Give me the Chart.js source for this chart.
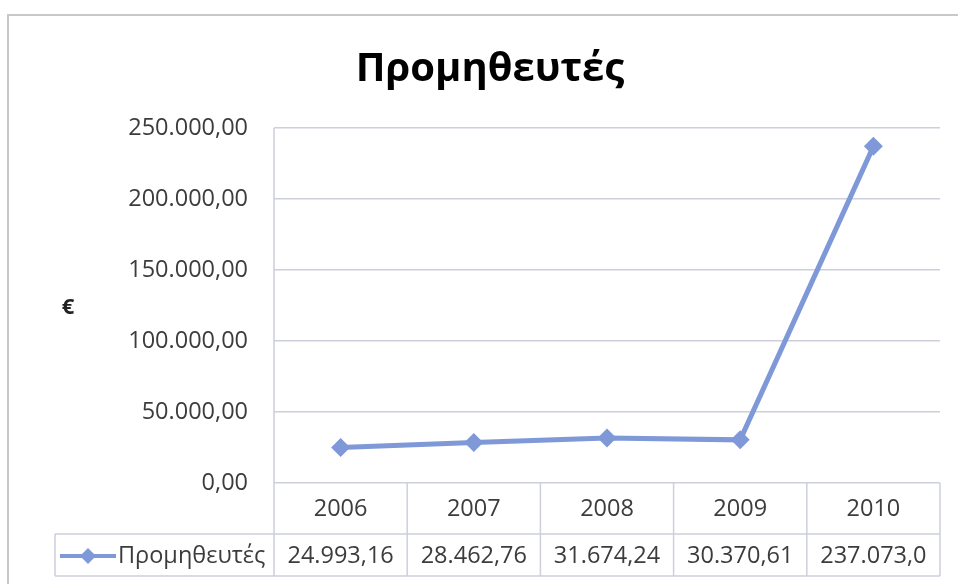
<!DOCTYPE html>
<html>
<head>
<meta charset="utf-8">
<script src="https://cdn.jsdelivr.net/npm/chart.js@4.4.1/dist/chart.umd.min.js"></script>
<style>
  html, body { margin: 0; padding: 0; background: #fff; }
  #wrap { width: 958px; height: 584px; position: relative; }
</style>
</head>
<body>
<div id="wrap"><canvas id="chartSuppliers" width="958" height="584"></canvas></div>
<script>
// dados
const years = ['2006', '2007', '2008', '2009', '2010'];
const supplierValues = [24993.16, 28462.76, 31674.24, 30370.61, 237073.01];
const tableLabels = ['24.993,16', '28.462,76', '31.674,24', '30.370,61', '237.073,0'];
const seriesName = 'Προμηθευτές';
const chartTitle = 'Προμηθευτές';
const axisTitle = '€';

const FONT = '"Open Sans", "DejaVu Sans", sans-serif';
const LINE_COLOR = '#7f98d8';
const GRID_COLOR = '#cdd0dc';
const TEXT_COLOR = '#3c3c3c';

// 250000 -> "250.000,00"
function fmt(v) {
  const parts = v.toFixed(2).split('.');
  const int = parts[0].replace(/\B(?=(\d{3})+(?!\d))/g, '.');
  return int + ',' + parts[1];
}

// titulo, eixo e tabela de dados
const tablePlugin = {
  id: 'dataTable',
  afterDraw(chart) {
    const ctx = chart.ctx;
    const area = chart.chartArea;
    const x = chart.scales.x;
    const headerMid = 509;
    const rowTop = 534;
    const rowBottom = 576;
    const rowMid = 556;
    const legendLeft = 55;

    ctx.save();

    // moldura
    ctx.strokeStyle = '#c8c8c8';
    ctx.lineWidth = 2;
    ctx.beginPath();
    ctx.moveTo(8, 600);
    ctx.lineTo(8, 15);
    ctx.lineTo(958, 15);
    ctx.stroke();

    // titulo
    ctx.fillStyle = '#000';
    ctx.font = 'bold 40px ' + FONT;
    ctx.textAlign = 'center';
    ctx.textBaseline = 'middle';
    ctx.fillText(chartTitle, 490, 70);

    // titulo do eixo
    ctx.font = 'bold 22px ' + FONT;
    ctx.fillStyle = '#222';
    ctx.fillText(axisTitle, 68, 308);

    // linhas da tabela
    ctx.strokeStyle = GRID_COLOR;
    ctx.lineWidth = 1.5;
    ctx.beginPath();
    ctx.moveTo(area.left, area.top);
    ctx.lineTo(area.left, rowBottom);
    for (let i = 1; i <= years.length; i++) {
      const bx = i < years.length
        ? (x.getPixelForValue(i - 1) + x.getPixelForValue(i)) / 2
        : area.right;
      ctx.moveTo(bx, area.bottom);
      ctx.lineTo(bx, rowBottom);
    }
    ctx.moveTo(legendLeft, rowTop);
    ctx.lineTo(area.right, rowTop);
    ctx.moveTo(legendLeft, rowBottom);
    ctx.lineTo(area.right, rowBottom);
    ctx.moveTo(legendLeft, rowTop);
    ctx.lineTo(legendLeft, rowBottom);
    ctx.stroke();

    // textos
    ctx.fillStyle = TEXT_COLOR;
    ctx.font = '23.5px ' + FONT;
    years.forEach((y, i) => {
      const cx = x.getPixelForValue(i);
      ctx.fillText(y, cx, headerMid);
      ctx.fillText(tableLabels[i], cx, rowMid);
    });

    // legenda
    ctx.strokeStyle = LINE_COLOR;
    ctx.lineWidth = 4;
    ctx.beginPath();
    ctx.moveTo(60, rowMid);
    ctx.lineTo(116, rowMid);
    ctx.stroke();
    ctx.fillStyle = LINE_COLOR;
    ctx.beginPath();
    ctx.moveTo(88, rowMid - 8);
    ctx.lineTo(96, rowMid);
    ctx.lineTo(88, rowMid + 8);
    ctx.lineTo(80, rowMid);
    ctx.closePath();
    ctx.fill();
    ctx.fillStyle = TEXT_COLOR;
    ctx.textAlign = 'left';
    ctx.fillText(seriesName, 118, rowMid);

    ctx.restore();
  }
};

new Chart(document.getElementById('chartSuppliers'), {
  type: 'line',
  data: {
    labels: years,
    datasets: [{
      label: seriesName,
      data: supplierValues,
      borderColor: LINE_COLOR,
      backgroundColor: LINE_COLOR,
      borderWidth: 5,
      tension: 0,
      pointStyle: 'rectRot',
      pointRadius: 9.5,
      pointBackgroundColor: LINE_COLOR,
      pointBorderColor: LINE_COLOR,
      pointBorderWidth: 0
    }]
  },
  options: {
    responsive: false,
    animation: false,
    layout: {
      padding: { top: 128, bottom: 101, left: 0, right: 18 }
    },
    plugins: {
      legend: { display: false },
      title: { display: false },
      tooltip: { enabled: false }
    },
    scales: {
      x: {
        type: 'category',
        offset: true,
        display: false
      },
      y: {
        min: 0,
        max: 250000,
        afterFit: function(scale) { scale.width = 274; },
        ticks: {
          stepSize: 50000,
          padding: 26,
          color: TEXT_COLOR,
          font: { family: FONT, size: 23.5 },
          callback: function(v) { return fmt(v); }
        },
        grid: {
          color: GRID_COLOR,
          lineWidth: 1.5,
          drawTicks: false
        },
        border: { display: false }
      }
    }
  },
  plugins: [tablePlugin]
});
</script>
</body>
</html>
